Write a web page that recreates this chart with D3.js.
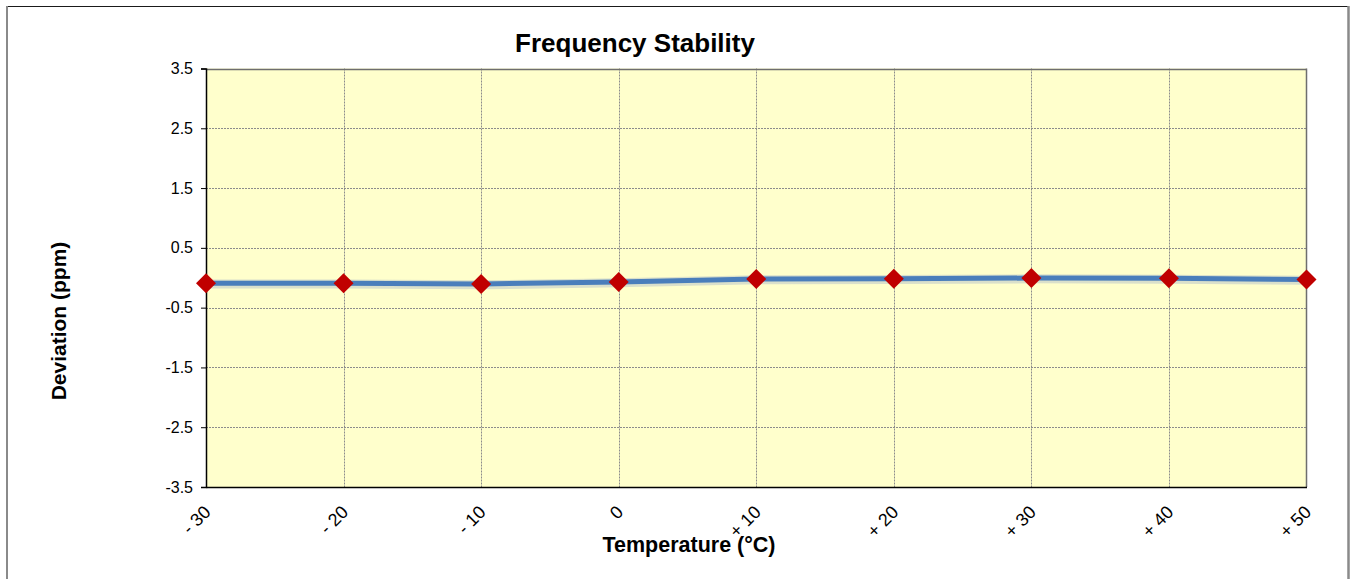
<!DOCTYPE html>
<html>
<head>
<meta charset="utf-8">
<script src="https://cdn.jsdelivr.net/npm/d3@7"></script>
<style>
  html, body { margin: 0; padding: 0; background: #fff; }
  svg { display: block; font-family: "Liberation Sans", Arial, sans-serif; }
</style>
</head>
<body>
<svg id="chart" width="1351" height="579"></svg>
<script>
const categories = ["- 30", "- 20", "- 10", "0", "+ 10", "+ 20", "+ 30", "+ 40", "+ 50"];
const deviation = [-0.09, -0.09, -0.105, -0.07, -0.02, -0.017, -0.005, -0.01, -0.03];
const yTicks = [3.5, 2.5, 1.5, 0.5, -0.5, -1.5, -2.5, -3.5];
const titleText = "Frequency Stability";
const xTitle = "Temperature (°C)";
const yTitle = "Deviation (ppm)";

const W = 1351, H = 579;
const plot = { left: 206, right: 1306.5, top: 68.5, bottom: 487 };

const svg = d3.select("#chart");

// outer frame
svg.append("line").attr("x1", 6).attr("x2", 1349).attr("y1", 6.5).attr("y2", 6.5)
  .attr("stroke", "#1a1a1a").attr("stroke-width", 1);
svg.append("line").attr("x1", 7).attr("x2", 7).attr("y1", 6).attr("y2", H + 5)
  .attr("stroke", "#8a8a8a").attr("stroke-width", 2);
svg.append("line").attr("x1", 1348.5).attr("x2", 1348.5).attr("y1", 6).attr("y2", H + 5)
  .attr("stroke", "#8a8a8a").attr("stroke-width", 2.5);

const x = d3.scalePoint().domain(categories).range([plot.left, plot.right]).padding(0);
const y = d3.scaleLinear().domain([-3.5, 3.5]).range([plot.bottom, plot.top]);

// plot background
svg.append("rect")
  .attr("x", plot.left).attr("y", plot.top)
  .attr("width", plot.right - plot.left).attr("height", plot.bottom - plot.top)
  .attr("fill", "#ffffcc");

// gridlines
const grid = svg.append("g");
grid.selectAll("line.h").data(yTicks.filter(d => d !== -3.5 && d !== 3.5)).join("line")
  .attr("x1", plot.left).attr("x2", plot.right)
  .attr("y1", d => Math.round(y(d)) + 0.5).attr("y2", d => Math.round(y(d)) + 0.5)
  .attr("stroke", "#8c8c8c").attr("stroke-width", 1).attr("stroke-dasharray", "2,1");
grid.selectAll("line.v").data(categories.slice(1, -1)).join("line")
  .attr("x1", d => Math.round(x(d)) + 0.5).attr("x2", d => Math.round(x(d)) + 0.5)
  .attr("y1", plot.top).attr("y2", plot.bottom)
  .attr("stroke", "#8c8c8c").attr("stroke-width", 1).attr("stroke-dasharray", "2,1");

// plot border top/right
svg.append("line").attr("x1", plot.left).attr("x2", plot.right)
  .attr("y1", Math.round(y(3.5)) + 0.5).attr("y2", Math.round(y(3.5)) + 0.5)
  .attr("stroke", "#6e6e6e").attr("stroke-width", 1.5);
svg.append("line").attr("x1", plot.right).attr("x2", plot.right)
  .attr("y1", plot.top).attr("y2", plot.bottom)
  .attr("stroke", "#6e6e6e").attr("stroke-width", 1.5);

// y axis
const yAxis = d3.axisLeft(y).tickValues(yTicks).tickSize(5).tickPadding(8)
  .tickFormat(d => d.toFixed(1));
const gy = svg.append("g").attr("transform", `translate(${plot.left},0)`).call(yAxis);
gy.attr("font-size", null).attr("font-family", null);
gy.select(".domain").attr("stroke", "#000").attr("stroke-width", 1.5);
gy.selectAll(".tick line").attr("stroke", "#000");
gy.selectAll(".tick text").style("font-size", "16px").attr("fill", "#000")
  .style("font-family", "Liberation Sans, Arial, sans-serif");

// x axis
const xAxis = d3.axisBottom(x).tickSize(0).tickPadding(0);
const gx = svg.append("g").attr("transform", `translate(0,${plot.bottom})`).call(xAxis);
gx.attr("font-size", null).attr("font-family", null);
gx.select(".domain").attr("stroke", "#000").attr("stroke-width", 1.5);
gx.selectAll(".tick text")
  .style("font-size", "18px").attr("fill", "#000")
  .style("font-family", "Liberation Sans, Arial, sans-serif")
  .attr("text-anchor", "end")
  .attr("dy", null).attr("y", null)
  .attr("transform", "translate(1,22) rotate(-45)")
  .attr("dominant-baseline", "central");

// line with subtle shadow
const lineGen = d3.line().x((d, i) => x(categories[i])).y(d => y(d));
svg.append("path").datum(deviation)
  .attr("d", lineGen).attr("fill", "none")
  .attr("stroke", "#b5c2c9").attr("stroke-opacity", 0.5).attr("stroke-width", 9)
  .attr("transform", "translate(0,0.8)");
svg.append("path").datum(deviation)
  .attr("d", lineGen).attr("fill", "none")
  .attr("stroke", "#4a7ebb").attr("stroke-width", 5).attr("stroke-linejoin", "round");

// markers
const sym = d3.symbol().type(d3.symbolSquare).size(200);
svg.selectAll("path.marker").data(deviation).join("path")
  .attr("class", "marker")
  .attr("d", sym)
  .attr("transform", (d, i) => `translate(${x(categories[i])},${y(d)}) rotate(45)`)
  .attr("fill", "#c00000");

// titles
svg.append("text").attr("x", 635).attr("y", 52).attr("text-anchor", "middle")
  .attr("font-size", 26).attr("font-weight", "bold").attr("fill", "#000").text(titleText);
svg.append("text").attr("x", 689).attr("y", 552).attr("text-anchor", "middle")
  .attr("font-size", 21.5).attr("font-weight", "bold").attr("fill", "#000").text(xTitle);
svg.append("text").attr("transform", "translate(66,321) rotate(-90)").attr("text-anchor", "middle")
  .attr("font-size", 21).attr("font-weight", "bold").attr("fill", "#000").text(yTitle);
</script>
</body>
</html>
